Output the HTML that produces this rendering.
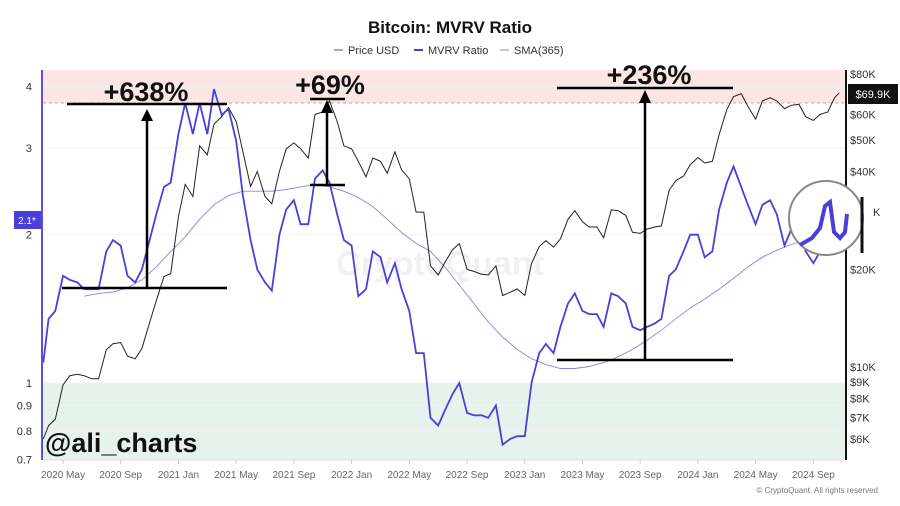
<!DOCTYPE html>
<html><head><meta charset="utf-8">
<style>
body{margin:0;background:#fff;font-family:"Liberation Sans",sans-serif;}
svg{display:block}
</style></head>
<body>
<svg id="chart" width="900" height="506" viewBox="0 0 900 506">
<text x="450" y="33" text-anchor="middle" font-size="17" font-weight="bold" fill="#111">Bitcoin: MVRV Ratio</text>
<g font-size="11" fill="#333">
 <g><line x1="334" y1="50" x2="343" y2="50" stroke="#555" stroke-width="1"/><text x="348" y="54">Price USD</text></g>
 <g><line x1="414" y1="50" x2="423" y2="50" stroke="#4a3fd8" stroke-width="2"/><text x="428" y="54">MVRV Ratio</text></g>
 <g><line x1="500" y1="50" x2="509" y2="50" stroke="#8a84e6" stroke-width="1"/><text x="514" y="54">SMA(365)</text></g>
</g>
<rect x="43" y="70" width="802" height="33" fill="#fce6e4"/>
<line x1="43" y1="103" x2="845" y2="103" stroke="#e79a98" stroke-dasharray="3,3"/>
<rect x="43" y="383" width="802" height="77" fill="#e6f3ec"/>
<line x1="43" y1="383" x2="845" y2="383" stroke="#9ccbb0" stroke-dasharray="3,3"/>
<text x="440" y="275" text-anchor="middle" font-size="34" font-weight="bold" fill="#f1f1f4">CryptoQuant</text>
<g id="grid"></g>
<g id="series"></g>
<line x1="42" y1="70" x2="42" y2="460" stroke="#5b4fe0" stroke-width="2"/>
<line x1="846" y1="70" x2="846" y2="460" stroke="#111" stroke-width="2"/>
<line x1="43" y1="460" x2="845" y2="460" stroke="#ddd"/>
<g id="axes" font-size="11" fill="#333"></g>
<rect x="14" y="211" width="27" height="18" fill="#4a3fd8"/>
<text x="27" y="224" text-anchor="middle" font-size="10" fill="#fff">2.1*</text>
<rect x="848" y="84" width="50" height="20" fill="#111"/>
<text x="873" y="98" text-anchor="middle" font-size="11" fill="#fff">$69.9K</text>
<g stroke="#000" stroke-width="2.5">
 <line x1="67" y1="104" x2="227" y2="104"/><line x1="62" y1="288" x2="227" y2="288"/><line x1="147" y1="288" x2="147" y2="120"/>
 <polygon points="141,121 153,121 147,109" fill="#000" stroke="none"/>
</g>
<text x="146" y="101" text-anchor="middle" font-size="27" font-weight="bold" fill="#111">+638%</text>
<g stroke="#000" stroke-width="2.5">
 <line x1="310" y1="99" x2="345" y2="99"/><line x1="310" y1="185" x2="345" y2="185"/><line x1="327" y1="185" x2="327" y2="112"/>
 <polygon points="321,113 333,113 327,100" fill="#000" stroke="none"/>
</g>
<text x="330" y="94" text-anchor="middle" font-size="27" font-weight="bold" fill="#111">+69%</text>
<g stroke="#000" stroke-width="2.5">
 <line x1="557" y1="88" x2="733" y2="88"/><line x1="557" y1="360" x2="733" y2="360"/><line x1="645" y1="360" x2="645" y2="102"/>
 <polygon points="639,103 651,103 645,90" fill="#000" stroke="none"/>
</g>
<text x="649" y="84" text-anchor="middle" font-size="27" font-weight="bold" fill="#111">+236%</text>
<g>
 <circle cx="826" cy="218" r="37" fill="#fff" stroke="#888" stroke-width="2"/>
 <polyline points="800,245 812,238 820,228 825,206 830,202 834,232 840,238 845,232 847,214" fill="none" stroke="#4a3fd8" stroke-width="4"/>
 <line x1="862" y1="197" x2="862" y2="253" stroke="#111" stroke-width="3"/>
</g>
<text x="45" y="452" font-size="27" font-weight="bold" fill="#111">@ali_charts</text>
<text x="878" y="493" text-anchor="end" font-size="8" fill="#777">© CryptoQuant. All rights reserved</text>
</svg>
<script>
const dates=["2020-03-20","2020-04-01","2020-04-15","2020-05-01","2020-05-15","2020-06-01","2020-06-15","2020-07-01","2020-07-15","2020-08-01","2020-08-15","2020-09-01","2020-09-15","2020-10-01","2020-10-15","2020-11-01","2020-11-15","2020-12-01","2020-12-15",
"2021-01-01","2021-01-15","2021-02-01","2021-02-15","2021-03-01","2021-03-15","2021-04-01","2021-04-15","2021-05-01","2021-05-15","2021-06-01","2021-06-15","2021-07-01","2021-07-15","2021-08-01","2021-08-15","2021-09-01","2021-09-15","2021-10-01","2021-10-15","2021-11-01","2021-11-15","2021-12-01","2021-12-15",
"2022-01-01","2022-01-15","2022-02-01","2022-02-15","2022-03-01","2022-03-15","2022-04-01","2022-04-15","2022-05-01","2022-05-15","2022-06-01","2022-06-15","2022-07-01","2022-07-15","2022-08-01","2022-08-15","2022-09-01","2022-09-15","2022-10-01","2022-10-15","2022-11-01","2022-11-15","2022-12-01","2022-12-15",
"2023-01-01","2023-01-15","2023-02-01","2023-02-15","2023-03-01","2023-03-15","2023-04-01","2023-04-15","2023-05-01","2023-05-15","2023-06-01","2023-06-15","2023-07-01","2023-07-15","2023-08-01","2023-08-15","2023-09-01","2023-09-15","2023-10-01","2023-10-15","2023-11-01","2023-11-15","2023-12-01","2023-12-15",
"2024-01-01","2024-01-15","2024-02-01","2024-02-15","2024-03-01","2024-03-15","2024-04-01","2024-04-15","2024-05-01","2024-05-15","2024-06-01","2024-06-15","2024-07-01","2024-07-15","2024-08-01","2024-08-15","2024-09-01","2024-09-15","2024-10-01","2024-10-15","2024-10-25"];
const priceK=[6.0,6.6,6.9,8.8,9.4,9.5,9.4,9.2,9.2,11.3,11.8,11.9,10.8,10.6,11.4,13.7,16.0,19.0,19.4,
29.0,36.5,33.5,48.0,45.0,56.0,59.0,63.0,57.0,46.0,36.0,40.0,33.5,31.8,40.0,47.0,49.0,47.0,44.0,60.0,61.0,66.0,57.0,48.0,
47.0,43.0,38.5,44.0,43.0,39.5,46.0,40.5,38.0,30.0,30.0,20.5,19.2,21.0,23.0,24.0,20.0,19.7,19.3,19.2,20.5,16.6,17.0,17.4,
16.6,20.8,23.5,24.5,23.4,24.8,28.5,30.3,28.0,27.0,27.0,25.0,30.5,30.3,29.3,26.0,25.8,26.6,27.0,27.2,35.0,37.5,38.7,42.0,
44.2,42.5,43.0,52.0,62.0,68.0,69.5,63.5,58.0,66.0,67.5,66.0,62.5,64.0,64.5,59.0,57.5,60.0,61.0,67.5,69.9];
const mvrv=[1.1,1.35,1.4,1.65,1.62,1.6,1.55,1.55,1.55,1.85,1.95,1.9,1.65,1.6,1.7,1.95,2.2,2.5,2.55,
3.2,3.7,3.2,3.7,3.2,3.95,3.5,3.6,3.1,2.4,1.95,1.7,1.6,1.54,2.0,2.25,2.35,2.1,2.1,2.6,2.7,2.55,2.2,1.95,
1.9,1.5,1.55,1.85,1.8,1.6,1.75,1.55,1.4,1.15,1.15,0.85,0.82,0.88,0.95,1.0,0.87,0.86,0.86,0.85,0.9,0.75,0.77,0.78,
0.78,1.0,1.15,1.2,1.15,1.3,1.45,1.52,1.4,1.38,1.38,1.3,1.52,1.5,1.45,1.3,1.28,1.3,1.32,1.35,1.65,1.7,1.85,2.0,
2.0,1.8,1.85,2.25,2.55,2.75,2.5,2.3,2.1,2.3,2.35,2.2,1.9,2.05,2.1,1.85,1.75,1.85,2.0,2.15,2.15];
const smaDates=["2020-06-15","2020-07-15","2020-08-15","2020-09-15","2020-10-15","2020-11-15","2020-12-15","2021-01-15","2021-02-15","2021-03-15","2021-04-15","2021-05-15","2021-06-15","2021-07-15","2021-08-15","2021-09-15","2021-10-15","2021-11-15","2021-12-15","2022-01-15","2022-02-15","2022-03-15","2022-04-15","2022-05-15","2022-06-15","2022-07-15","2022-08-15","2022-09-15","2022-10-15","2022-11-15","2022-12-15","2023-01-15","2023-02-15","2023-03-15","2023-04-15","2023-05-15","2023-06-15","2023-07-15","2023-08-15","2023-09-15","2023-10-15","2023-11-15","2023-12-15","2024-01-15","2024-02-15","2024-03-15","2024-04-15","2024-05-15","2024-06-15","2024-07-15","2024-08-15","2024-09-15","2024-10-15"];
const sma=[1.5,1.52,1.53,1.56,1.62,1.72,1.85,1.98,2.15,2.3,2.4,2.45,2.45,2.45,2.47,2.5,2.53,2.5,2.45,2.38,2.28,2.15,2.02,1.92,1.85,1.72,1.58,1.45,1.33,1.24,1.17,1.12,1.09,1.07,1.07,1.08,1.1,1.13,1.17,1.22,1.28,1.35,1.42,1.48,1.55,1.63,1.72,1.8,1.86,1.91,1.95,1.98,2.02];
const xTicks=["2020 May","2020 Sep","2021 Jan","2021 May","2021 Sep","2022 Jan","2022 May","2022 Sep","2023 Jan","2023 May","2023 Sep","2024 Jan","2024 May","2024 Sep"];
const leftTicks=[4,3,2,1,0.9,0.8,0.7];
const rightTicks=[80,60,50,40,30,20,10,9,8,7,6];

const NS="http://www.w3.org/2000/svg";
function tOf(s){const p=s.split("-").map(Number);return (p[0]-2020)*12+(p[1]-3)+(p[2]-1)/30;}
function xOf(t){return 63+(t-2)*14.43;}
function yL(v){return 383-214*Math.log(v);}
function yR(k){return 367-141*Math.log(k/10);}
function mk(tag,attrs,parent){const e=document.createElementNS(NS,tag);for(const k in attrs)e.setAttribute(k,attrs[k]);parent.appendChild(e);return e;}
const grid=document.getElementById('grid'),series=document.getElementById('series'),axes=document.getElementById('axes');
leftTicks.forEach(v=>{
  const l=mk('line',{x1:43,x2:845,y1:yL(v),y2:yL(v),stroke:'#f2f2f2'},grid);
  
  
  const t=mk('text',{x:32,y:yL(v)+4,'text-anchor':'end'},axes);t.textContent=String(v);
  
  
});
rightTicks.forEach(k=>{
  if(k===30)return;
  const t=mk('text',{x:850,y:yR(k)+4},axes);t.textContent='$'+k+'K';
  
  
});
{const t=mk('text',{x:873,y:yR(30)+4},axes);t.textContent='K';
 
 }
xTicks.forEach((lab,i)=>{
  const x=xOf(2+i*4);
  const tk=mk('line',{x1:x,x2:x,y1:460,y2:464,stroke:'#ccc'},axes);
  
  
  const t=mk('text',{x:x,y:478,'text-anchor':'middle','font-size':'10',fill:'#666'},axes);t.textContent=lab;
  
  
});
function pts(ds,vals,yf){return ds.map((d,i)=>xOf(tOf(d)).toFixed(1)+','+yf(vals[i]).toFixed(1)).join(' ');}
const sl=mk('polyline',{points:pts(smaDates,sma,yL),fill:'none',stroke:'#8a84e6','stroke-width':0.9},series);


const pl=mk('polyline',{points:pts(dates,priceK,yR),fill:'none',stroke:'#222','stroke-width':1},series);


const ml=mk('polyline',{points:pts(dates,mvrv,yL),fill:'none',stroke:'#4a3fd8','stroke-width':1.8},series);


</script>
</body></html>
